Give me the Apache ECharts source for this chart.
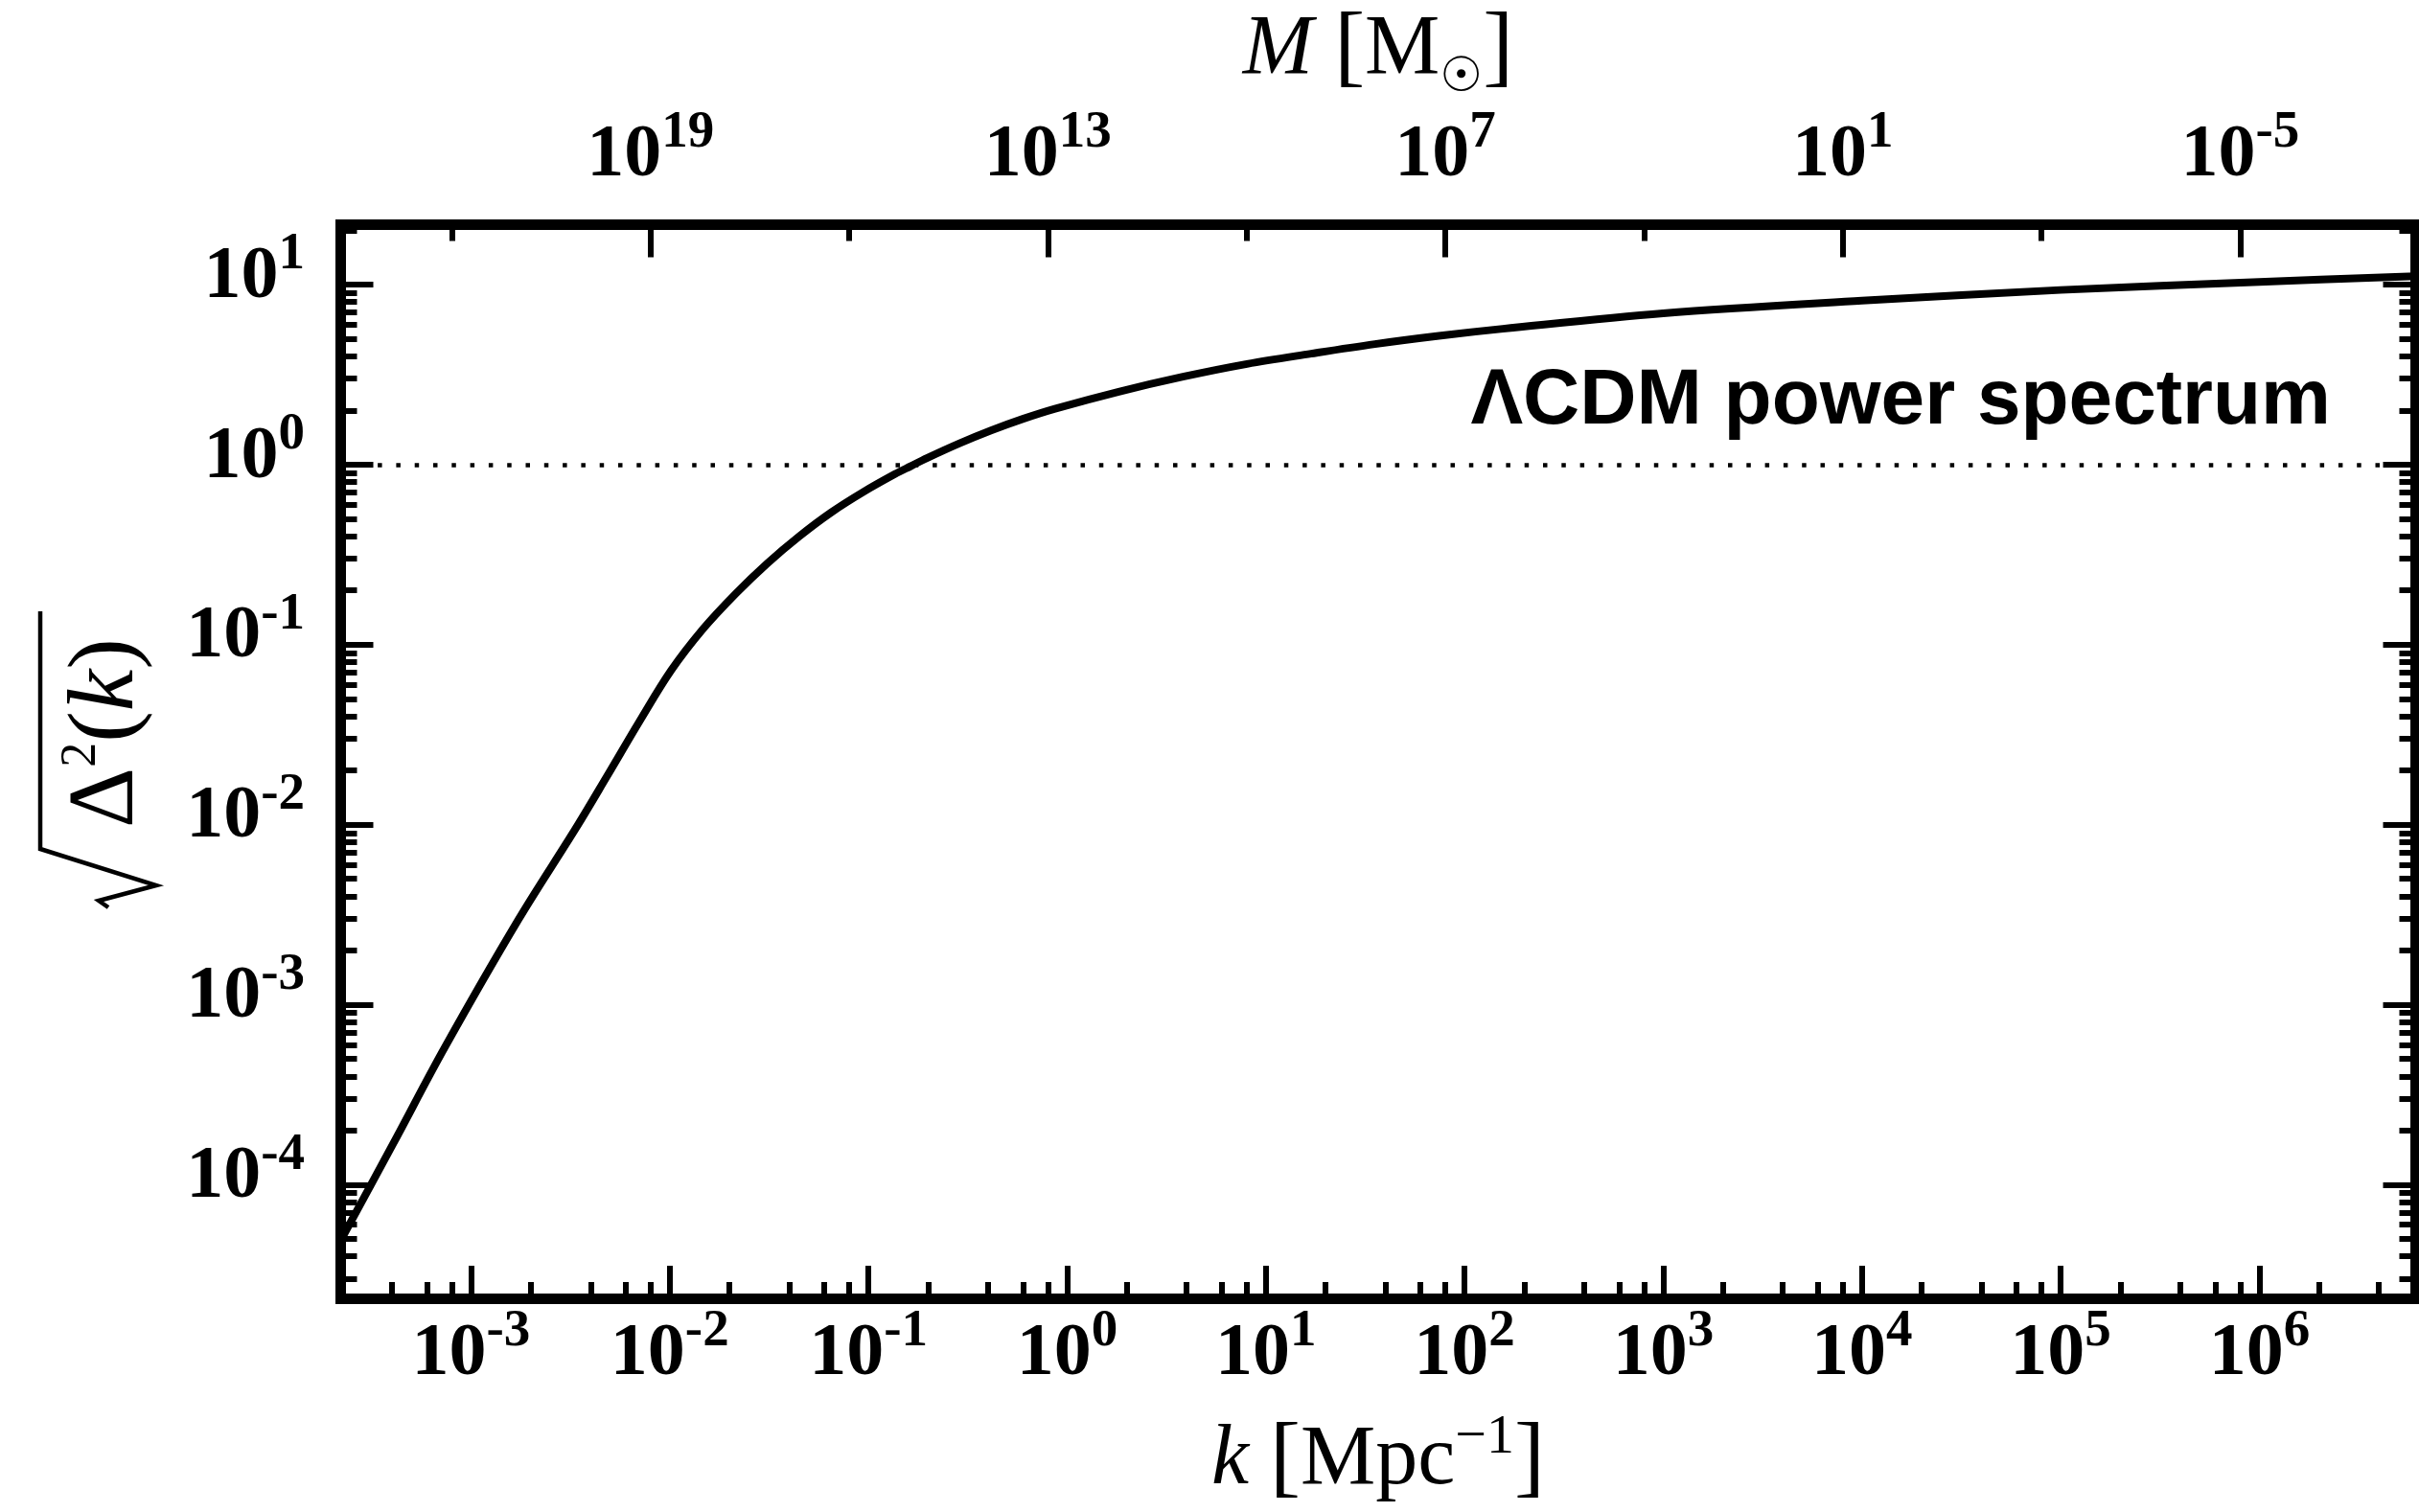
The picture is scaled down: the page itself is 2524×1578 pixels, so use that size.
<!DOCTYPE html>
<html>
<head>
<meta charset="utf-8">
<script src="https://cdn.jsdelivr.net/npm/echarts@6/dist/echarts.min.js"></script>
<style>
html,body{margin:0;padding:0;background:#ffffff;}
#chart{width:2524px;height:1578px;}
</style>
</head>
<body>
<div id="chart"></div>
<script>
// ---- data ----
// wavenumber k [Mpc^-1]
const kValues = [2.21e-4, 4.07e-4, 7.38e-4, 1.73e-3, 3.40e-3, 4.84e-3, 7.03e-3, 1.016e-2, 1.47e-2,
  2.14e-2, 3.09e-2, 4.48e-2, 6.49e-2, 9.40e-2, 0.136, 0.164, 0.197, 0.286, 0.414, 0.600, 0.869,
  1.82, 3.83, 8.04, 16.9, 35.4, 74.3, 156, 1e3, 1e4, 1e5, 1e6, 6.12e6];
// sqrt(Delta^2(k))
const sigmaValues = [4.9e-5, 1.70e-4, 5.79e-4, 2.96e-3, 9.7e-3, 1.86e-2, 3.73e-2, 7.18e-2, 0.122,
  0.191, 0.282, 0.399, 0.542, 0.703, 0.885, 0.982, 1.086, 1.309, 1.547, 1.795, 2.042,
  2.54, 3.076, 3.622, 4.13, 4.67, 5.19, 5.68, 6.92, 8.13, 9.33, 10.35, 11.14];
const kRange = [2.21e-4, 6.12e6];
const sigmaRange = [2.34e-5, 21.5];
const kTickExponents = [-3, -2, -1, 0, 1, 2, 3, 4, 5, 6];
const kMinorMultipliers = [2, 4, 6, 8];
const sigmaTickExponents = [-4, -3, -2, -1, 0, 1];
const sigmaMinorMultipliers = [2, 3, 4, 5, 6, 7, 8, 9];
const massTickExponents = [19, 13, 7, 1, -5];
const massMinorExponents = [22, 16, 10, 4, -2];
const massAtUnitK = Math.pow(10, 12.71);   // M [Msun] at k = 1 Mpc^-1, M scales as k^-3
const referenceLevel = 1;
const curveLabel = 'ΛCDM power spectrum';

// ---- derived ----
const lg = Math.log10;
const kMin = lg(kRange[0]), kMax = lg(kRange[1]);
const sMin = lg(sigmaRange[0]), sMax = lg(sigmaRange[1]);
const mAt = x => lg(massAtUnitK) - 3 * x;
const mLeft = mAt(kMin), mRight = mAt(kMax);
function minors(lo, hi, mults) {
  const out = [];
  for (let n = Math.floor(lo) - 1; n <= Math.ceil(hi); n++) {
    for (const m of mults) { const v = n + lg(m); if (v > lo && v < hi) out.push(v); }
  }
  return out;
}
const kMinor = minors(kMin, kMax, kMinorMultipliers);
const sMinor = minors(sMin, sMax, sigmaMinorMultipliers);
const seriesData = kValues.map((k, i) => [lg(k), lg(sigmaValues[i])]);

const serif = "'Liberation Serif', 'Times New Roman', Times, serif";
const expLabel = v => '{b|10}{s|' + Math.round(v) + '}';
const labelRich = {
  b: { fontFamily: serif, fontWeight: 'bold', fontSize: 78, height: 100, verticalAlign: 'bottom', color: '#000' },
  s: { fontFamily: serif, fontWeight: 'bold', fontSize: 55, height: 53, verticalAlign: 'top', color: '#000' }
};
const borderLine = { show: true, onZero: false, lineStyle: { color: '#000', width: 11, cap: 'square' } };
const noLine = { show: false, onZero: false };
const tick = (vals, len) => ({ show: true, inside: true, length: len, customValues: vals, lineStyle: { color: '#000', width: 6 } });

const chart = echarts.init(document.getElementById('chart'), null, { renderer: 'canvas' });
chart.setOption({
  animation: false,
  backgroundColor: '#ffffff',
  grid: { left: 355.5, right: 3.5, top: 234.5, bottom: 223, containLabel: false, outerBoundsMode: 'none' },
  xAxis: [
    {
      type: 'value', position: 'bottom', min: kMin, max: kMax,
      axisLine: borderLine, axisTick: tick(kTickExponents, 34),
      axisLabel: { show: true, customValues: kTickExponents, formatter: expLabel, rich: labelRich, margin: 8.5 },
      splitLine: { show: false },
      name: '{i|k}{r| }{br|[}{r|Mpc}{s|−1}{br|]}', nameLocation: 'middle', nameGap: 115, nameMoveOverlap: false,
      nameTextStyle: { rich: {
        i: { fontFamily: serif, fontStyle: 'italic', fontSize: 88, height: 110, verticalAlign: 'bottom', color: '#000' },
        r: { fontFamily: serif, fontSize: 88, height: 110, verticalAlign: 'bottom', color: '#000' },
        br: { fontFamily: serif, fontSize: 96, height: 110, verticalAlign: 'bottom', color: '#000' },
        s: { fontFamily: serif, fontSize: 58, height: 62, verticalAlign: 'top', color: '#000' }
      } }
    },
    {
      type: 'value', position: 'bottom', min: kMin, max: kMax,
      axisLine: noLine, axisTick: tick(kMinor, 17), axisLabel: { show: false }, splitLine: { show: false }
    },
    {
      type: 'value', position: 'top', min: mRight, max: mLeft, inverse: true,
      axisLine: borderLine, axisTick: tick(massTickExponents, 34),
      axisLabel: { show: true, customValues: massTickExponents, formatter: expLabel, rich: labelRich, margin: 22 },
      splitLine: { show: false },
      name: '{i|M}{r| }{br|[}{r|M}{sun|☉}{br|]}', nameLocation: 'middle', nameGap: 127, nameMoveOverlap: false,
      nameTextStyle: { rich: {
        i: { fontFamily: serif, fontStyle: 'italic', fontSize: 88, height: 110, verticalAlign: 'top', color: '#000' },
        r: { fontFamily: serif, fontSize: 88, height: 110, verticalAlign: 'top', color: '#000' },
        br: { fontFamily: serif, fontSize: 96, height: 110, verticalAlign: 'top', color: '#000' },
        sun: { fontFamily: "'DejaVu Sans', sans-serif", fontSize: 50, height: 51, verticalAlign: 'bottom', color: '#000' }
      } }
    },
    {
      type: 'value', position: 'top', min: mRight, max: mLeft, inverse: true,
      axisLine: noLine, axisTick: tick(massMinorExponents, 17), axisLabel: { show: false }, splitLine: { show: false }
    }
  ],
  yAxis: [
    {
      type: 'value', position: 'left', min: sMin, max: sMax,
      axisLine: borderLine, axisTick: tick(sigmaTickExponents, 34),
      axisLabel: { show: true, customValues: sigmaTickExponents, formatter: expLabel, rich: labelRich, margin: 37.5, padding: [0, 0, 15, 0] },
      splitLine: { show: false }
    },
    {
      type: 'value', position: 'left', min: sMin, max: sMax,
      axisLine: noLine, axisTick: tick(sMinor, 17), axisLabel: { show: false }, splitLine: { show: false }
    },
    {
      type: 'value', position: 'right', min: sMin, max: sMax,
      axisLine: borderLine, axisTick: tick(sigmaTickExponents, 34), axisLabel: { show: false }, splitLine: { show: false }
    },
    {
      type: 'value', position: 'right', min: sMin, max: sMax,
      axisLine: noLine, axisTick: tick(sMinor, 17), axisLabel: { show: false }, splitLine: { show: false }
    }
  ],
  series: [
    {
      type: 'line', xAxisIndex: 0, yAxisIndex: 0, data: seriesData,
      showSymbol: false, smooth: 0.35,
      lineStyle: { color: '#000', width: 8, cap: 'round', join: 'round' },
      z: 3,
      markLine: {
        silent: true, symbol: 'none', label: { show: false },
        lineStyle: { color: '#000', width: 4.5, type: [4.5, 14.8] },
        data: [{ yAxis: lg(referenceLevel) }]
      }
    }
  ],
  graphic: [
    {
      type: 'text', x: 112.6, y: 765, rotation: Math.PI / 2,
      style: {
        text: '{r|Δ}{s|2}{r|(}{i|k}{r|)}', align: 'center', verticalAlign: 'middle',
        rich: {
          r: { fontFamily: serif, fontSize: 98, height: 116, verticalAlign: 'bottom', fill: '#000' },
          i: { fontFamily: serif, fontStyle: 'italic', fontSize: 98, height: 116, verticalAlign: 'bottom', fill: '#000' },
          s: { fontFamily: serif, fontSize: 52, height: 61, verticalAlign: 'top', fill: '#000' }
        }
      }
    },
    {
      type: 'polyline',
      shape: { points: [[113, 947], [103, 940], [163, 924], [42, 886], [42, 638]] },
      style: { stroke: '#000', lineWidth: 4.5, fill: null }
    },
    {
      type: 'text', x: 2432, y: 419.3,
      style: { text: curveLabel, align: 'right', verticalAlign: 'middle',
        font: "bold 82px 'Liberation Sans', Arial, Helvetica, sans-serif", fill: '#000' }
    }
  ]
});
</script>
</body>
</html>
